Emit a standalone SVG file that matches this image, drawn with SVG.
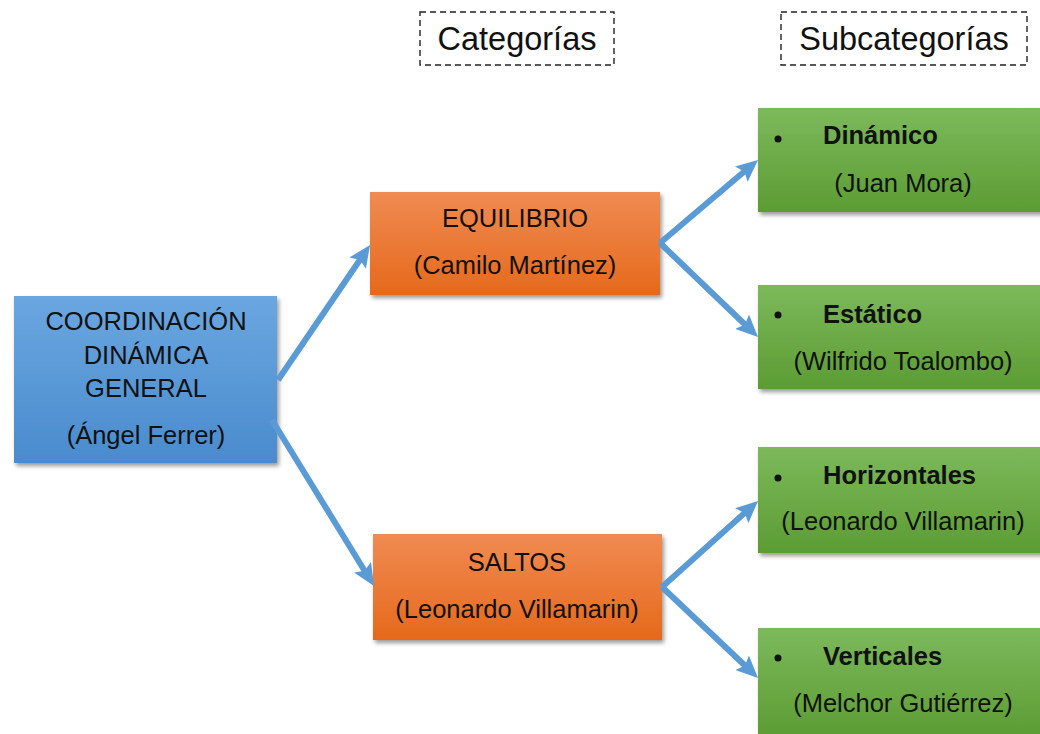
<svg xmlns="http://www.w3.org/2000/svg" width="1040" height="734" viewBox="0 0 1040 734">
<style>
.t{font-family:"Liberation Sans",Arial,sans-serif;font-size:25.5px;fill:#111;}
.c{text-anchor:middle;}
.b{font-weight:bold;}
.h{font-family:"Liberation Sans",Arial,sans-serif;font-size:32.5px;fill:#111;text-anchor:middle;}
.dash{fill:#fff;stroke:#222;stroke-width:1.4;stroke-dasharray:6 4;}
.conn{fill:none;stroke:#5b9bd5;stroke-width:6;marker-end:url(#ah);}
</style>
<defs>
<linearGradient id="gBlue" x1="0" y1="0" x2="0" y2="1"><stop offset="0" stop-color="#6aa7e1"/><stop offset="1" stop-color="#4a8bcd"/></linearGradient>
<linearGradient id="gOrange" x1="0" y1="0" x2="0" y2="1"><stop offset="0" stop-color="#f08b52"/><stop offset="1" stop-color="#e5691b"/></linearGradient>
<linearGradient id="gGreen" x1="0" y1="0" x2="0" y2="1"><stop offset="0" stop-color="#7cb95b"/><stop offset="1" stop-color="#5c9c33"/></linearGradient>
<filter id="sh" x="-10%" y="-10%" width="125%" height="130%"><feDropShadow dx="2" dy="3" stdDeviation="2" flood-color="#000" flood-opacity="0.4"/></filter>
<marker id="ah" viewBox="0 0 22 20" refX="9" refY="10" markerWidth="22" markerHeight="20" markerUnits="userSpaceOnUse" orient="auto"><path d="M0,0 L22,10 L0,20 L4,10 Z" fill="#5b9bd5"/></marker>
</defs>
<rect width="1040" height="734" fill="#fff"/>

<g id="hdr-categorias">
<rect class="dash" x="420" y="12" width="194" height="53"/>
<text class="h" x="517" y="50">Categorías</text>
</g>
<g id="hdr-subcategorias">
<rect class="dash" x="781" y="12" width="246" height="53"/>
<text class="h" x="904" y="50">Subcategorías</text>
</g>

<g id="n-root">
<rect x="14" y="296" width="263" height="167" fill="url(#gBlue)" filter="url(#sh)"/>
<text class="t c" x="146" y="330">COORDINACIÓN</text>
<text class="t c" x="146" y="364">DINÁMICA</text>
<text class="t c" x="146" y="397">GENERAL</text>
<text class="t c" x="146" y="444">(Ángel Ferrer)</text>
</g>

<g id="n-equilibrio">
<rect x="370" y="192" width="290" height="103" fill="url(#gOrange)" filter="url(#sh)"/>
<text class="t c" x="515" y="227">EQUILIBRIO</text>
<text class="t c" x="515" y="274">(Camilo Martínez)</text>
</g>

<g id="n-saltos">
<rect x="373" y="534" width="289" height="106" fill="url(#gOrange)" filter="url(#sh)"/>
<text class="t c" x="517" y="571">SALTOS</text>
<text class="t c" x="517" y="618">(Leonardo Villamarin)</text>
</g>

<g id="n-dinamico">
<rect x="758" y="108" width="292" height="104" fill="url(#gGreen)" filter="url(#sh)"/>
<circle cx="778" cy="139" r="3.5" fill="#111"/>
<text class="t b" x="823" y="144">Dinámico</text>
<text class="t c" x="903" y="192">(Juan Mora)</text>
</g>

<g id="n-estatico">
<rect x="758" y="285" width="292" height="104" fill="url(#gGreen)" filter="url(#sh)"/>
<circle cx="778" cy="315" r="3.5" fill="#111"/>
<text class="t b" x="823" y="323">Estático</text>
<text class="t c" x="903" y="370">(Wilfrido Toalombo)</text>
</g>

<g id="n-horizontales">
<rect x="758" y="447" width="292" height="106" fill="url(#gGreen)" filter="url(#sh)"/>
<circle cx="778" cy="478" r="3.5" fill="#111"/>
<text class="t b" x="823" y="484">Horizontales</text>
<text class="t c" x="903" y="530">(Leonardo Villamarin)</text>
</g>

<g id="n-verticales">
<rect x="758" y="628" width="292" height="110" fill="url(#gGreen)" filter="url(#sh)"/>
<circle cx="778" cy="658" r="3.5" fill="#111"/>
<text class="t b" x="823" y="665">Verticales</text>
<text class="t c" x="903" y="712">(Melchor Gutiérrez)</text>
</g>

<g id="connectors">
<path class="conn" d="M278,380 L362.7,255.7"/>
<path class="conn" d="M272,420 L367.2,575"/>
<path class="conn" d="M660,243 L748.1,168.3"/>
<path class="conn" d="M660,243 L748.6,328"/>
<path class="conn" d="M662,587 L748.4,509.6"/>
<path class="conn" d="M662,587 L748.6,669"/>
</g>
</svg>
